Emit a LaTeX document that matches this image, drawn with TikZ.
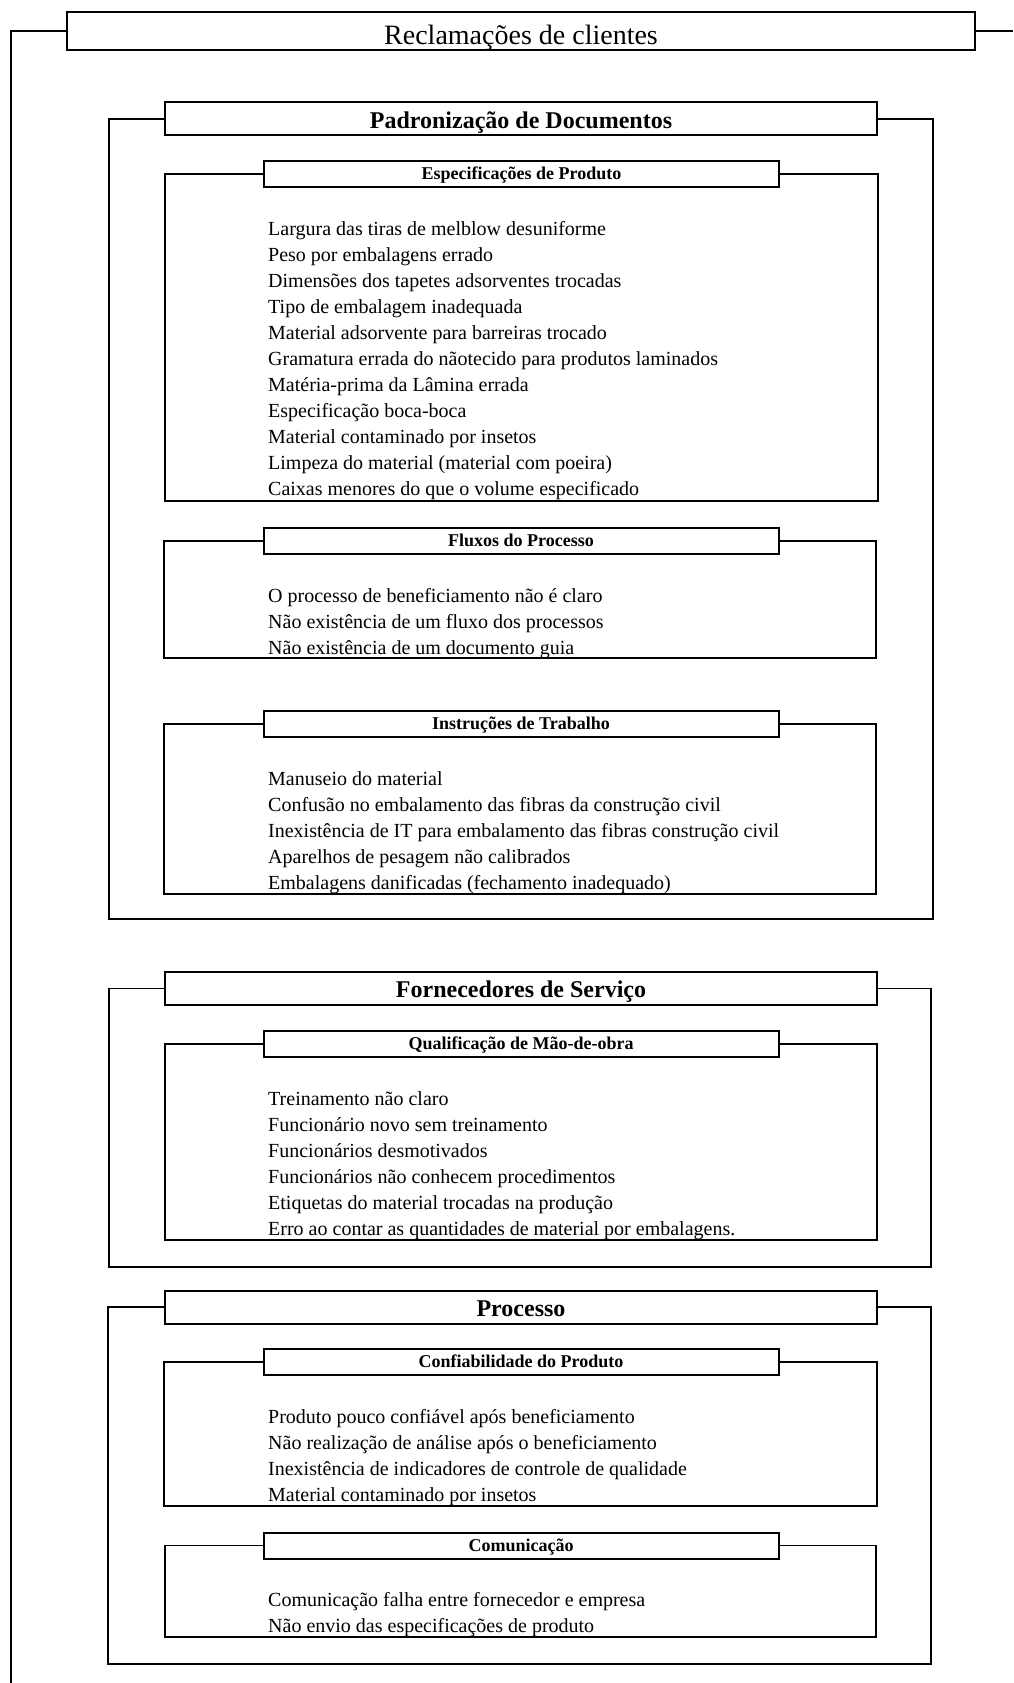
\documentclass[tikz,border=0pt]{standalone}
\usepackage{fontspec}
\setmainfont{Liberation Serif}
\usepackage{tikz}

\begin{document}
\begin{tikzpicture}[
  x=1pt, y=-1pt,
  font=\fontsize{20}{26}\selectfont,
  box/.style={draw, line width=2pt, fill=white, inner sep=0pt, align=center},
  titlebox/.style={box, minimum width=908pt, minimum height=38pt, text height=28pt, text depth=0pt, font=\fontsize{28}{30}\selectfont},
  groupbox/.style={box, minimum width=712pt, minimum height=33pt, text height=18.6pt, text depth=0pt, font=\fontsize{24}{26}\selectfont\bfseries},
  subbox/.style={box, minimum width=515pt, minimum height=26pt, text height=14pt, text depth=2.5pt, font=\fontsize{18}{20}\selectfont\bfseries},
  items/.style={anchor=base west, inner sep=0pt},
  br/.style={line width=1.2pt}
]
\useasboundingbox (0,0) rectangle (1013,1683);
\node[titlebox] (rec) at (521,31) {Reclamações de clientes};

\node[groupbox] (pad) at (521,119) {Padronização de Documentos};
\node[subbox] (esp) at (521.5,174) {Especificações de Produto};
\node[items] (espL) at (268,235) {\begin{tabular}[t]{@{}l@{}}
  Largura das tiras de melblow desuniforme\\
  Peso por embalagens errado\\
  Dimensões dos tapetes adsorventes trocadas\\
  Tipo de embalagem inadequada\\
  Material adsorvente para barreiras trocado\\
  Gramatura errada do nãotecido para produtos laminados\\
  Matéria-prima da Lâmina errada\\
  Especificação boca-boca\\
  Material contaminado por insetos\\
  Limpeza do material (material com poeira)\\
  Caixas menores do que o volume especificado
\end{tabular}};
\node[subbox] (flu) at (521,541) {Fluxos do Processo};
\node[items] (fluL) at (268,602) {\begin{tabular}[t]{@{}l@{}}
  O processo de beneficiamento não é claro\\
  Não existência de um fluxo dos processos\\
  Não existência de um documento guia
\end{tabular}};
\node[subbox] (ins) at (521,724) {Instruções de Trabalho};
\node[items] (insL) at (268,785) {\begin{tabular}[t]{@{}l@{}}
  Manuseio do material\\
  Confusão no embalamento das fibras da construção civil\\
  Inexistência de IT para embalamento das fibras construção civil\\
  Aparelhos de pesagem não calibrados\\
  Embalagens danificadas (fechamento inadequado)
\end{tabular}};

\node[groupbox] (forn) at (521,988.5) {Fornecedores de Serviço};
\node[subbox] (qual) at (521,1044) {Qualificação de Mão-de-obra};
\node[items] (qualL) at (268,1105) {\begin{tabular}[t]{@{}l@{}}
  Treinamento não claro\\
  Funcionário novo sem treinamento\\
  Funcionários desmotivados\\
  Funcionários não conhecem procedimentos\\
  Etiquetas do material trocadas na produção\\
  Erro ao contar as quantidades de material por embalagens.
\end{tabular}};

\node[groupbox] (proc) at (521,1307) {Processo};
\node[subbox] (conf) at (521,1362) {Confiabilidade do Produto};
\node[items] (confL) at (268,1423) {\begin{tabular}[t]{@{}l@{}}
  Produto pouco confiável após beneficiamento\\
  Não realização de análise após o beneficiamento\\
  Inexistência de indicadores de controle de qualidade\\
  Material contaminado por insetos
\end{tabular}};
\node[subbox] (com) at (521,1545.5) {Comunicação};
\node[items] (comL) at (268,1606) {\begin{tabular}[t]{@{}l@{}}
  Comunicação falha entre fornecedor e empresa\\
  Não envio das especificações de produto
\end{tabular}};

\coordinate (recBL) at (11,1683);
\coordinate (recR) at (1013,31);
\coordinate (padBL) at (109,919);
\coordinate (padBR) at (933,919);
\coordinate (espBL) at (165,501);
\coordinate (espBR) at (878,501);
\coordinate (fluBL) at (164,658);
\coordinate (fluBR) at (876,658);
\coordinate (insBL) at (164,894);
\coordinate (insBR) at (876,894);
\coordinate (fornBL) at (109,1267);
\coordinate (fornBR) at (931,1267);
\coordinate (qualBL) at (165,1240);
\coordinate (qualBR) at (877,1240);
\coordinate (procBL) at (108,1664);
\coordinate (procBR) at (931,1664);
\coordinate (confBL) at (164,1506);
\coordinate (confBR) at (877,1506);
\coordinate (comBL) at (165,1637);
\coordinate (comBR) at (876,1637);

\draw[br] (rec.west) -| (recBL);
\draw[br] (rec.east) -- (recR);
\draw[br] (pad.west) -| (padBL) -- (padBR) |- (pad.east);
\draw[br] (esp.west) -| (espBL) -- (espBR) |- (esp.east);
\draw[br] (flu.west) -| (fluBL) -- (fluBR) |- (flu.east);
\draw[br] (ins.west) -| (insBL) -- (insBR) |- (ins.east);
\draw[br] (forn.west) -| (fornBL) -- (fornBR) |- (forn.east);
\draw[br] (qual.west) -| (qualBL) -- (qualBR) |- (qual.east);
\draw[br] (proc.west) -| (procBL) -- (procBR) |- (proc.east);
\draw[br] (conf.west) -| (confBL) -- (confBR) |- (conf.east);
\draw[br] (com.west) -| (comBL) -- (comBR) |- (com.east);
\end{tikzpicture}
\end{document}
